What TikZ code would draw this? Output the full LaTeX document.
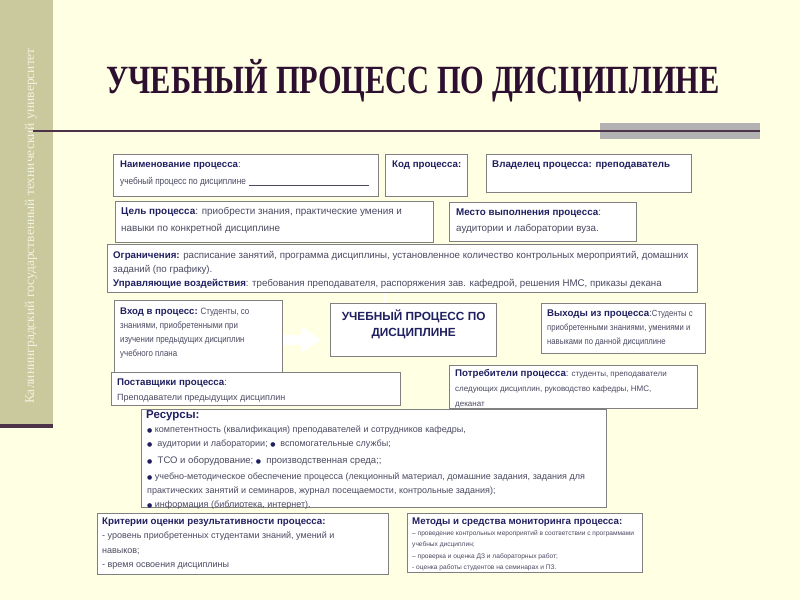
\documentclass[tikz,border=0pt]{standalone}
\usepackage{fontspec}
\setmainfont{Liberation Sans}
\newfontfamily\sansNN[FakeStretch=0.86]{Liberation Sans}
\newfontfamily\serifT[FakeStretch=0.76]{Liberation Serif}
\newfontfamily\serifS{Liberation Serif}
\newfontfamily\dejavu{DejaVu Sans}
\usetikzlibrary{arrows.meta,calc}
\definecolor{bg}{HTML}{FFFFE3}
\definecolor{strip}{HTML}{C9C99D}
\definecolor{striptext}{HTML}{F2F2E0}
\definecolor{darkl}{HTML}{4D3349}
\definecolor{grayr}{HTML}{B2B2B2}
\definecolor{titlec}{HTML}{2D0F2F}
\definecolor{bordc}{HTML}{808080}
\definecolor{labc}{HTML}{202060}
\definecolor{bodyc}{HTML}{4A4A62}
\newcommand\lbl[1]{{\bfseries\color{labc}#1}}
\newcommand\bul{{\dejavu\fontsize{6}{6}\selectfont\color{labc}●}}
\begin{document}
\begin{tikzpicture}[x=1pt,y=-1pt,
  box/.style={draw=bordc, line width=1.2pt, fill=white, anchor=north west, inner sep=0pt},
  txt/.style={anchor=north west, inner sep=0pt, align=left, text=bodyc}]
\useasboundingbox (0,0) rectangle (800,600);
\fill[bg] (0,0) rectangle (800,600);
\fill[strip] (0,0) rectangle (53,425);
\fill[darkl] (0,424) rectangle (53,428);
\node[rotate=90, text=striptext, font=\serifS\fontsize{13.5}{14}\selectfont] (univ) at (31,226) {Калининградский государственный технический университет};
\fill[grayr] (600,123) rectangle (760,139);
\draw[darkl, line width=2pt] (33,131) -- (760,131);
\node[font=\serifT\bfseries\fontsize{40}{40}\selectfont, text=titlec] (title) at (413,81) {УЧЕБНЫЙ ПРОЦЕСС ПО ДИСЦИПЛИНЕ};

% boxes
\node[box, minimum width=265pt, minimum height=42pt] (naim) at (113,154) {};
\node[box, minimum width=82pt, minimum height=42pt] (kod) at (385,154) {};
\node[box, minimum width=205pt, minimum height=38pt] (vlad) at (486,154) {};
\node[box, minimum width=318pt, minimum height=41pt] (tsel) at (115,201) {};
\node[box, minimum width=187pt, minimum height=39pt] (mesto) at (449,202) {};
\node[box, minimum width=590pt, minimum height=48pt] (ogr) at (107,244) {};
\node[box, minimum width=168pt, minimum height=78pt] (vhod) at (114,300) {};
\node[box, minimum width=166pt, minimum height=53pt] (central) at (330,303) {};
\node[box, minimum width=164pt, minimum height=50pt] (vyh) at (541,303) {};
\node[box, minimum width=248pt, minimum height=43pt] (potr) at (449,365) {};
\node[box, minimum width=289pt, minimum height=33pt] (post) at (111,372) {};
\node[box, minimum width=465pt, minimum height=98pt] (res) at (141,409) {};
\node[box, minimum width=291pt, minimum height=61pt] (krit) at (97,513) {};
\node[box, minimum width=235pt, minimum height=59pt] (met) at (407,513) {};

% connectors
\coordinate (cx) at ($(central.north west)+(55,0)$);
\draw[white, line width=2pt] (ogr.south -| cx) -- (cx);
\draw[white, line width=10pt, -{Triangle[width=26pt,length=20pt]}] (vhod.east) -- ($(vhod.east -| central.west)+(-9,0)$);

% texts
\node[txt, font=\fontsize{9.6}{17}\selectfont] (naimt) at ($(naim.north west)+(7,6.5)$) {\lbl{Наименование процесса}:\\{\sansNN учебный процесс по дисциплине} \rule[-1pt]{120pt}{0.6pt}};
\node[txt, font=\fontsize{9.7}{17}\selectfont] (kodt) at ($(kod.north west)+(7,6.5)$) {\lbl{Код процесса:}};
\node[txt, font=\fontsize{9.8}{17}\selectfont] (vladt) at ($(vlad.north west)+(6,6.5)$) {\lbl{Владелец процесса: преподаватель}};
\node[txt, font=\fontsize{9.9}{16.5}\selectfont] (tselt) at ($(tsel.north west)+(6,6.5)$) {\lbl{Цель процесса}: приобрести знания, практические умения и\\навыки по конкретной дисциплине};
\node[txt, font=\fontsize{9.8}{16.5}\selectfont] (mestot) at ($(mesto.north west)+(7,6.5)$) {\lbl{Место выполнения процесса}:\\аудитории и лаборатории вуза.};
\node[txt, font=\fontsize{9.7}{14}\selectfont] (ogrt) at ($(ogr.north west)+(6,7)$) {\lbl{Ограничения:} расписание занятий, программа дисциплины, установленное количество контрольных мероприятий, домашних\\заданий (по графику).\\\lbl{Управляющие воздействия}: требования преподавателя, распоряжения зав. кафедрой, решения НМС, приказы декана};
\node[txt, font=\sansNN\fontsize{9.2}{14}\selectfont] (vhodt) at ($(vhod.north west)+(6,8)$) {{\rmfamily\fontsize{9.6}{14}\selectfont\lbl{Вход в процесс:}} Студенты, со\\знаниями, приобретенными при\\изучении предыдущих дисциплин\\учебного плана};
\node[anchor=north, inner sep=0pt, align=center, text=labc, font=\bfseries\fontsize{11.8}{16}\selectfont] (centt) at ($(central.north)+(0,6.5)$) {УЧЕБНЫЙ ПРОЦЕСС ПО\\ДИСЦИПЛИНЕ};
\node[txt, font=\sansNN\fontsize{8.9}{14}\selectfont] (vyht) at ($(vyh.north west)+(6,6.5)$) {{\rmfamily\fontsize{9.7}{14}\selectfont\lbl{Выходы из процесса}:}Студенты с\\приобретенными знаниями, умениями и\\навыками по данной дисциплине};
\node[txt, font=\fontsize{8}{15}\selectfont] (potrt) at ($(potr.north west)+(6,4.5)$) {{\fontsize{9.7}{15}\selectfont\lbl{Потребители процесса}:} студенты, преподаватели\\следующих дисциплин, руководство кафедры, НМС,\\деканат};
\node[txt, font=\fontsize{9}{15}\selectfont] (postt) at ($(post.north west)+(6,6.5)$) {{\fontsize{9.7}{15}\selectfont\lbl{Поставщики процесса}:}\\Преподаватели предыдущих дисциплин};
\node[txt, font=\fontsize{11.5}{14}\selectfont] (rest) at ($(res.north west)+(5,1.5)$) {\lbl{Ресурсы:}};
\node[txt, font=\fontsize{9}{14}\selectfont] (resb) at ($(res.north west)+(6,17)$) {\bul\ компетентность (квалификация) преподавателей и сотрудников кафедры,\\
\bul\ \ аудитории и лаборатории; \bul\ \ вспомогательные службы;\\[3pt]
{\fontsize{9.5}{14}\selectfont\bul\ \ ТСО и оборудование; \bul\ \ производственная среда;;}\\[2pt]
\bul\ учебно-методическое обеспечение процесса (лекционный материал, домашние задания, задания для\\
практических занятий и семинаров, журнал посещаемости, контрольные задания);\\
\bul\ информация (библиотека, интернет).};
\node[txt, font=\fontsize{9}{14.5}\selectfont] (kritt) at ($(krit.north west)+(5,4.5)$) {{\fontsize{9.7}{14.5}\selectfont\lbl{Критерии оценки результативности процесса:}}\\- уровень приобретенных студентами знаний, умений и\\навыков;\\- время освоения дисциплины};
\node[txt, font=\fontsize{9.7}{12}\selectfont] (mett) at ($(met.north west)+(5,4.5)$) {\lbl{Методы и средства мониторинга процесса:}};
\node[txt, font=\fontsize{6.6}{11.3}\selectfont] (metb) at ($(met.north west)+(5,17.5)$) {– проведение контрольных мероприятий в соответствии с программами\\учебных дисциплин;\\– проверка и оценка ДЗ и лабораторных работ;\\- оценка работы студентов на семинарах и ПЗ.};
\end{tikzpicture}
\end{document}
